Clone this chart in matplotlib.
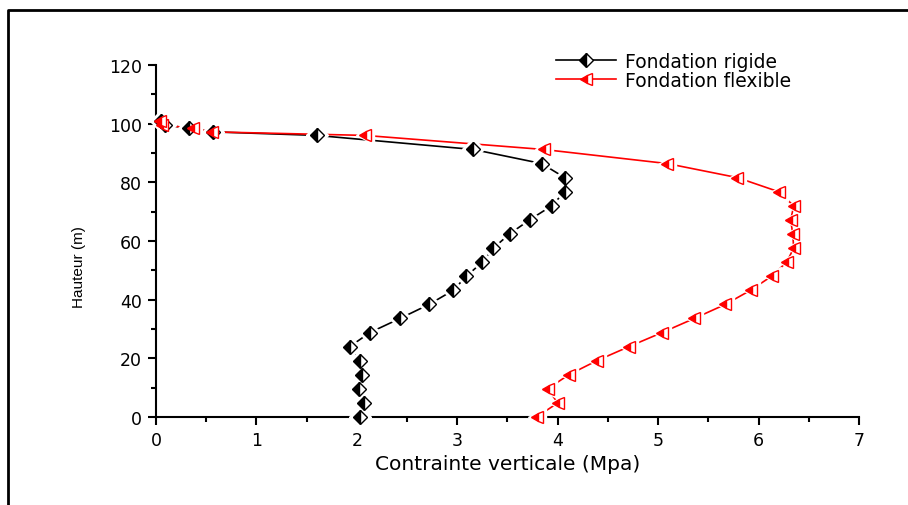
import matplotlib
matplotlib.use("Agg")
import matplotlib.pyplot as plt
from matplotlib.lines import Line2D
from matplotlib.ticker import MultipleLocator
from matplotlib import font_manager

plt.rcParams['font.family'] = ['DejaVu Sans']

# Height along the structure (m)
hauteur = [0.0, 4.8, 9.6, 14.4, 19.2, 24.0, 28.8, 33.6, 38.4, 43.2, 48.0,
           52.8, 57.6, 62.4, 67.2, 72.0, 76.8, 81.6, 86.4, 91.2, 96.0,
           97.2, 98.4, 99.6, 100.8]

# Vertical stress (MPa) for the rigid foundation
contrainte_rigide = [2.03, 2.07, 2.02, 2.05, 2.03, 1.93, 2.13, 2.43, 2.72,
                     2.96, 3.09, 3.25, 3.36, 3.52, 3.72, 3.94, 4.07, 4.07,
                     3.84, 3.16, 1.60, 0.57, 0.33, 0.09, 0.05]

# Vertical stress (MPa) for the flexible foundation
contrainte_flexible = [3.79, 4.00, 3.90, 4.11, 4.39, 4.71, 5.04, 5.36, 5.67,
                       5.92, 6.13, 6.28, 6.35, 6.34, 6.32, 6.35, 6.20, 5.79,
                       5.09, 3.86, 2.08, 0.56, 0.37, 0.06, 0.04]

labels = ["Fondation rigide", "Fondation flexible"]


def narrow_family():
    """Use a condensed sans face for the vertical label when one is installed."""
    for name in ("Liberation Sans Narrow", "DejaVu Sans Condensed"):
        try:
            font_manager.findfont(name, fallback_to_default=False)
            return name, 13.5
        except Exception:
            continue
    return "Liberation Sans", 11


fig = plt.figure(figsize=(9.08, 5.06), dpi=100)
ax = fig.add_axes([156 / 908, 88 / 506, 703 / 908, 352 / 506])

styles = [
    dict(color="black", marker="D", ms=7.2, mfc="black", mfcalt="white", mec="black"),
    dict(color="red", marker="<", ms=9.0, mfc="red", mfcalt="white", mec="red"),
]
series = [contrainte_rigide, contrainte_flexible]

handles = []
for xs, st, lab in zip(series, styles, labels):
    # connecting line
    ax.plot(xs, hauteur, color=st["color"], lw=1.2, zorder=2, clip_on=False)
    # white halo leaves a small gap between the line and each symbol
    ax.plot(xs, hauteur, ls="none", marker=st["marker"], ms=st["ms"] + 3.5,
            mfc="white", mec="white", zorder=3, clip_on=False)
    ax.plot(xs, hauteur, ls="none", marker=st["marker"], ms=st["ms"],
            fillstyle="left", mfc=st["mfc"], markerfacecoloralt=st["mfcalt"],
            mec=st["mec"], mew=1.0, zorder=4, clip_on=False)
    handles.append(Line2D([], [], color=st["color"], lw=1.2, marker=st["marker"],
                          ms=st["ms"], fillstyle="left", mfc=st["mfc"],
                          markerfacecoloralt=st["mfcalt"], mec=st["mec"], mew=1.0))

ax.set_xlim(0, 7)
ax.set_ylim(0, 120)
ax.xaxis.set_major_locator(MultipleLocator(1))
ax.xaxis.set_minor_locator(MultipleLocator(0.5))
ax.yaxis.set_major_locator(MultipleLocator(20))
ax.yaxis.set_minor_locator(MultipleLocator(10))

for side in ("top", "right"):
    ax.spines[side].set_visible(False)
for side in ("left", "bottom"):
    ax.spines[side].set_linewidth(1.5)

ax.tick_params(which="major", direction="out", length=6, width=1.5,
               labelsize=12.5, pad=4)
ax.tick_params(which="minor", direction="out", length=3.5, width=1.5)

ax.set_xlabel("Contrainte verticale (Mpa)", fontsize=14.5, labelpad=4)
yfam, ysize = narrow_family()
ax.set_ylabel("Hauteur (m)", fontsize=ysize, family=yfam)
ax.yaxis.set_label_coords(-0.099, 0.43)

leg = fig.legend(handles, labels, loc="upper left",
                 bbox_to_anchor=(556 / 908, 1 - 53 / 506),
                 frameon=False, fontsize=13.5, handlelength=3.2,
                 handletextpad=0.5, labelspacing=0.0, borderpad=0,
                 borderaxespad=0, numpoints=1)

# outer frame (left and top edges)
fig.add_artist(Line2D([8 / 908, 8 / 908, 1.0], [0.0, 1 - 11 / 506, 1 - 11 / 506],
                      transform=fig.transFigure, color="black", lw=2.0))

fig.savefig("out.png", dpi=100)
